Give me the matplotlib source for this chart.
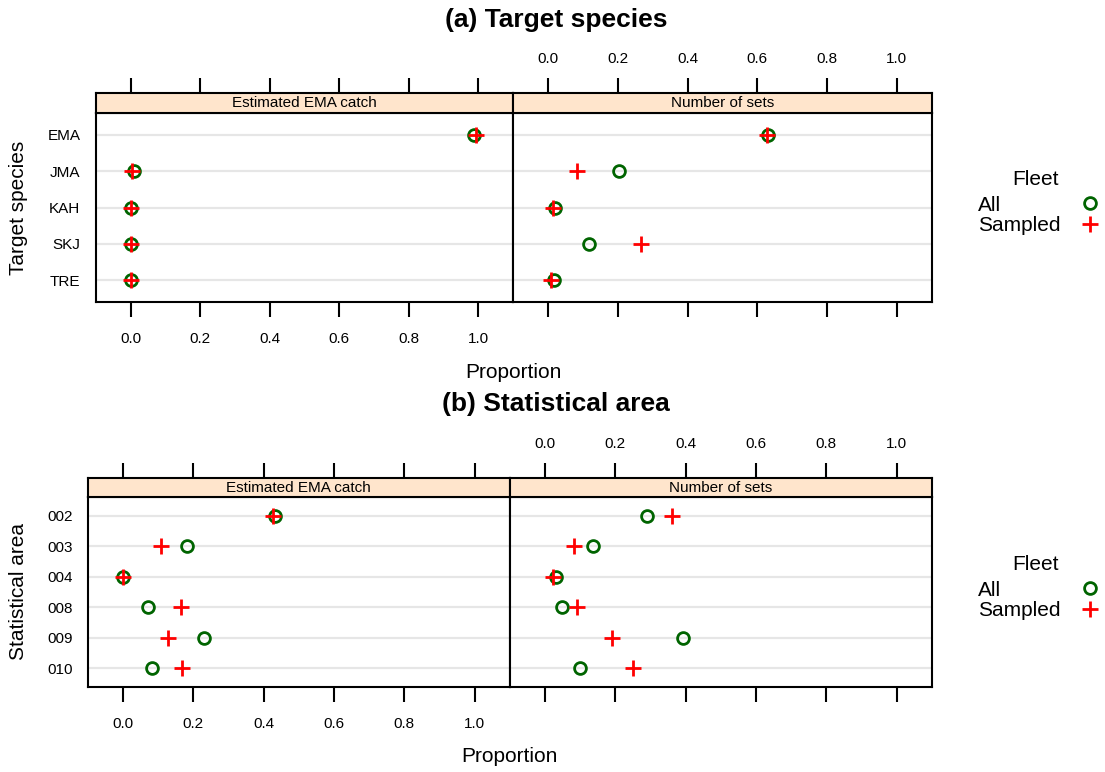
import numpy as np
import matplotlib.pyplot as plt
from matplotlib.lines import Line2D

plt.rcParams['font.family'] = ['Liberation Sans', 'DejaVu Sans']

# DATA SECTION------------------------------------------------------------------
species = ['EMA', 'JMA', 'KAH', 'SKJ', 'TRE']
species_catch_all = [0.988, 0.011, 0.0, 0.0, 0.0]
species_catch_sampled = [0.993, 0.003, 0.0, 0.0, 0.001]
species_sets_all = [0.632, 0.204, 0.021, 0.116, 0.017]
species_sets_sampled = [0.627, 0.082, 0.015, 0.265, 0.008]

areas = ['002', '003', '004', '008', '009', '010']
area_catch_all = [0.432, 0.181, 0.0, 0.072, 0.230, 0.084]
area_catch_sampled = [0.427, 0.109, 0.0, 0.165, 0.129, 0.168]
area_sets_all = [0.291, 0.135, 0.030, 0.047, 0.391, 0.099]
area_sets_sampled = [0.362, 0.082, 0.021, 0.090, 0.189, 0.249]

panel_names = ['Estimated EMA catch', 'Number of sets']
fleets = ['All', 'Sampled']
xticks = [0.0, 0.2, 0.4, 0.6, 0.8, 1.0]

# STYLE SECTION-----------------------------------------------------------------
col_all = '#006400'; col_samp = '#FF0000'
strip_col = '#FFE5CC'; ref_col = '#E6E6E6'
W = 1105; H = 772
fig = plt.figure(figsize=(W/100.0, H/100.0), dpi=100)

def px_axes(xa, ya, xb, yb):
    # axes placed with pixel coordinates measured from top-left corner
    return fig.add_axes([xa/W, 1-yb/H, (xb-xa)/W, (yb-ya)/H])

def draw_row(title, ylab, cats, values, g):
    n = len(cats)
    ypos = np.arange(n)[::-1]
    xs = [g['x0'], g['xmid'], g['x1']]
    for j in range(2):
        ax = px_axes(xs[j], g['strip_bot'], xs[j+1], g['panel_bot'])
        sax = px_axes(xs[j], g['strip_top'], xs[j+1], g['strip_bot'])
        v_all, v_samp = values[j]
        for y in ypos:
            ax.axhline(y, color=ref_col, lw=1.6, zorder=0)
        ax.plot(v_all, ypos, 'o', ls='none', mfc='none', mec=col_all, mew=2.0, ms=8.5, zorder=3)
        ax.plot(v_samp, ypos, '+', ls='none', color=col_samp, mew=2.0, ms=12, zorder=4)
        ax.set_xlim(-0.1, 1.1); ax.set_ylim(-0.6, n-0.4)
        ax.set_xticks(xticks)
        ax.set_xticklabels(['%.1f' % t for t in xticks])
        ax.tick_params(axis='x', direction='out', length=11, width=1.5, labelsize=11,
                       pad=10.5, bottom=True, top=False, labelbottom=(j == 0))
        ax.set_yticks(ypos)
        if j == 0:
            ax.set_yticklabels(cats)
        else:
            ax.set_yticklabels([])
        ax.tick_params(axis='y', length=0, labelsize=11, pad=11)
        sax.set_facecolor(strip_col)
        sax.set_xlim(-0.1, 1.1); sax.set_ylim(0, 1)
        sax.set_xticks(xticks)
        sax.set_xticklabels(['%.1f' % t for t in xticks])
        sax.tick_params(axis='x', direction='out', length=11, width=1.5, labelsize=11,
                        pad=8.5, bottom=False, top=True, labelbottom=False,
                        labeltop=(j == 1))
        sax.set_yticks([])
        sax.text(0.5, 0.5, panel_names[j], transform=sax.transAxes,
                 ha='center', va='center', fontsize=11)
        for a in (ax, sax):
            for s in a.spines.values():
                s.set_linewidth(1.5)

    yc = 0.5*(g['strip_bot'] + g['panel_bot'])
    fig.text(556.0/W, 1-g['title_y']/H, title, ha='center', va='center',
             fontsize=19, fontweight='bold')
    fig.text(0.5*(g['x0']+g['x1'])/W, 1-g['xlab_y']/H, 'Proportion',
             ha='center', va='center', fontsize=15)
    fig.text(19.0/W, 1-yc/H, ylab, ha='center', va='center', rotation=90, fontsize=15)

    # legend
    fig.text(1036.0/W, 1-(yc-28.0)/H, 'Fleet', ha='center', va='center', fontsize=15)
    fig.text(978.0/W, 1-(yc-2.0)/H, fleets[0], ha='left', va='center', fontsize=15)
    fig.text(978.0/W, 1-(yc+18.0)/H, fleets[1], ha='left', va='center', fontsize=15)
    fig.add_artist(Line2D([1089.5/W], [1-(yc-4.5)/H], transform=fig.transFigure,
                          marker='o', ls='none', mfc='none', mec=col_all, mew=2.0, ms=8.5))
    fig.add_artist(Line2D([1089.5/W], [1-(yc+16.5)/H], transform=fig.transFigure,
                          marker='+', ls='none', color=col_samp, mew=2.0, ms=12))

geom_a = dict(title_y=20.0, strip_top=93.3, strip_bot=112.7, panel_bot=302.3,
              x0=95.7, xmid=513.3, x1=931.5, xlab_y=372.6)
geom_b = dict(title_y=404.4, strip_top=477.7, strip_bot=497.3, panel_bot=686.7,
              x0=87.7, xmid=510.0, x1=931.7, xlab_y=757.0)

draw_row('(a) Target species', 'Target species', species,
         [(species_catch_all, species_catch_sampled), (species_sets_all, species_sets_sampled)],
         geom_a)
draw_row('(b) Statistical area', 'Statistical area', areas,
         [(area_catch_all, area_catch_sampled), (area_sets_all, area_sets_sampled)],
         geom_b)

fig.savefig('out.png', dpi=100)
